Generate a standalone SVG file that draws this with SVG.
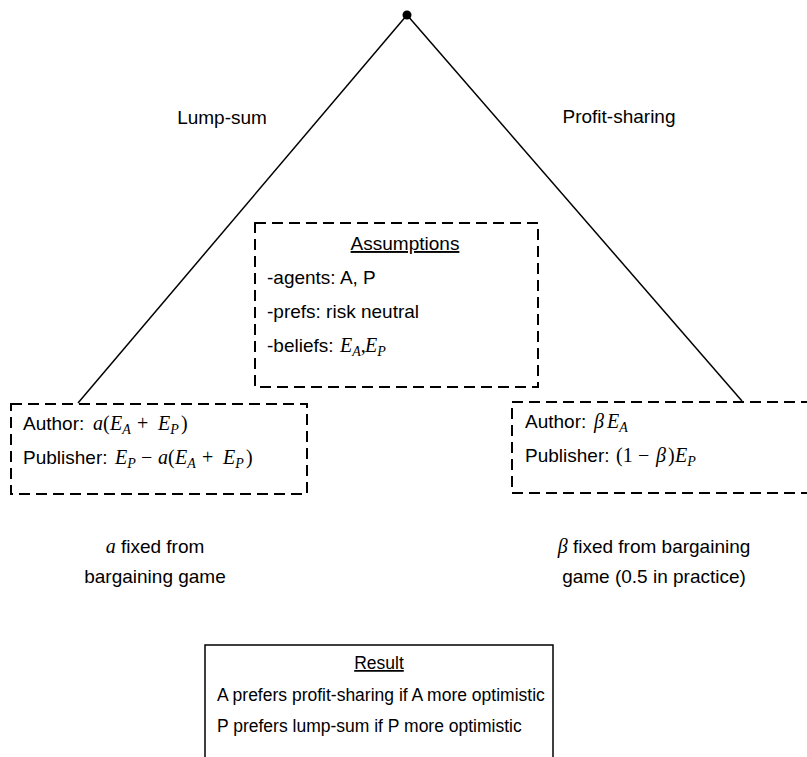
<svg xmlns="http://www.w3.org/2000/svg" width="807" height="757" viewBox="0 0 807 757">
<style>
.t{font-family:"Liberation Sans",Arial,sans-serif;font-size:19px;fill:#000}
.r{font-size:17.5px}
.m{font-family:"Liberation Serif","DejaVu Serif",serif;font-style:italic;font-size:20px}
.u{font-family:"Liberation Serif","DejaVu Serif",serif;font-style:normal;font-size:20px}
.s{font-family:"Liberation Serif","DejaVu Serif",serif;font-style:italic;font-size:14px}
.dash{fill:none;stroke:#000;stroke-width:2;stroke-dasharray:11,6}
.solid{fill:none;stroke:#000;stroke-width:1.5}
.edge{stroke:#000;stroke-width:1.5;fill:none}
</style>
<rect width="807" height="757" fill="#fff"/>
<g id="connectors">
<line class="edge" x1="407" y1="15" x2="78" y2="403"/>
<line class="edge" x1="407" y1="15" x2="742" y2="401"/>
</g>
<g id="root"><circle cx="407" cy="15" r="4.5" fill="#000"/></g>
<g id="label-lump"><text class="t" x="222" y="124" text-anchor="middle">Lump-sum</text></g>
<g id="label-profit"><text class="t" x="619" y="123" text-anchor="middle">Profit-sharing</text></g>
<g id="assumptions">
<rect class="dash" x="255" y="223" width="283" height="164"/>
<text class="t" x="405" y="250" text-anchor="middle" text-decoration="underline">Assumptions</text>
<text class="t" x="267" y="284">-agents: A, P</text>
<text class="t" x="267" y="318">-prefs: risk neutral</text>
<text class="t" x="267" y="352">-beliefs:</text>
<text class="t" x="340" y="352"><tspan class="m">E</tspan><tspan class="s" dy="4">A</tspan><tspan class="u" dy="-4">,</tspan><tspan class="m" x="365">E</tspan><tspan class="s" dy="4">P</tspan></text>
</g>
<g id="lump-sum">
<rect class="dash" x="11" y="404" width="296" height="90"/>
<text class="t" x="23" y="430">Author: <tspan class="m" x="93">a</tspan><tspan class="u" x="103">(</tspan><tspan class="m" x="110">E</tspan><tspan class="s" dy="4">A</tspan><tspan class="u" x="137" dy="-4">+</tspan><tspan class="m" x="158">E</tspan><tspan class="s" dy="4">P</tspan><tspan class="u" x="181" dy="-4">)</tspan></text>
<text class="t" x="23" y="464">Publisher: <tspan class="m" x="115">E</tspan><tspan class="s" dy="4">P</tspan><tspan class="u" x="141" dy="-4">−</tspan><tspan class="m" x="158">a</tspan><tspan class="u" x="168">(</tspan><tspan class="m" x="175">E</tspan><tspan class="s" dy="4">A</tspan><tspan class="u" x="202" dy="-4">+</tspan><tspan class="m" x="223">E</tspan><tspan class="s" dy="4">P</tspan><tspan class="u" x="246" dy="-4">)</tspan></text>
<text class="t" x="155" y="553" text-anchor="middle"><tspan class="m">a</tspan> fixed from</text>
<text class="t" x="155" y="583" text-anchor="middle">bargaining game</text>
</g>
<g id="profit-sharing">
<rect class="dash" x="512" y="402" width="300" height="91"/>
<text class="t" x="525" y="428">Author: <tspan class="m" x="594">β</tspan><tspan class="m" x="607">E</tspan><tspan class="s" dy="4">A</tspan></text>
<text class="t" x="525" y="462">Publisher: <tspan class="u" x="616">(1</tspan><tspan class="u" x="638">−</tspan><tspan class="m" x="656">β</tspan><tspan class="u" x="668">)</tspan><tspan class="m" x="675">E</tspan><tspan class="s" dy="4">P</tspan></text>
<text class="t" x="654" y="553" text-anchor="middle"><tspan class="m">β</tspan> fixed from bargaining</text>
<text class="t" x="654" y="583" text-anchor="middle">game (0.5 in practice)</text>
</g>
<g id="result">
<rect class="solid" x="205" y="645" width="348" height="130"/>
<text class="t r" x="379" y="669" text-anchor="middle" text-decoration="underline">Result</text>
<text class="t r" x="217" y="701">A prefers profit-sharing if A more optimistic</text>
<text class="t r" x="217" y="732">P prefers lump-sum if P more optimistic</text>
</g>
</svg>
